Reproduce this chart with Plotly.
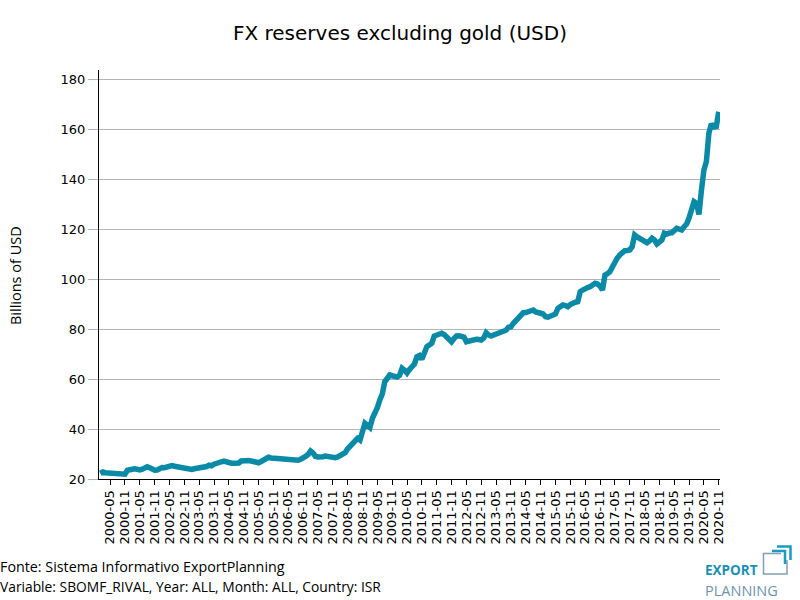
import plotly.graph_objects as go

# ---- data (billions of USD), monthly from 2000-01 to 2020-11 ----
r2000 = [22.3, 22.8, 22.5, 22.4, 22.3, 22.2, 22.3, 22.1, 22.2, 22.0, 21.9, 23.5]
r2001 = [24.0, 23.9, 24.1, 23.7, 23.6, 23.9, 24.3, 24.9, 24.5, 23.8, 23.5, 23.6]
r2002 = [24.3, 24.6, 24.5, 24.8, 25.1, 25.4, 25.1, 24.9, 24.6, 24.3, 23.9, 23.7]
r2003 = [23.9, 23.8, 24.1, 24.2, 24.7, 24.5, 24.4, 25.0, 25.5, 25.3, 25.9, 26.4]
r2004 = [26.6, 26.9, 27.2, 26.8, 26.4, 26.3, 26.3, 26.2, 26.4, 27.2, 27.4, 27.3]
r2005 = [27.4, 27.2, 26.9, 26.6, 26.5, 27.0, 27.6, 28.1, 28.7, 28.4, 28.2, 28.3]
r2006 = [28.3, 28.1, 28.0, 27.9, 27.9, 28.0, 27.6, 27.8, 27.5, 27.9, 28.8, 29.0]
r2007 = [29.8, 31.2, 30.4, 29.0, 28.8, 28.6, 28.9, 29.2, 29.0, 28.7, 28.4, 28.5]
r2008 = [28.8, 29.4, 29.6, 30.5, 32.1, 33.3, 34.5, 35.9, 36.3, 35.6, 38.5, 42.3]
r2009 = [41.5, 40.6, 44.3, 46.0, 48.5, 51.6, 54.0, 58.9, 60.3, 61.6, 61.3, 61.0]
r2010 = [60.8, 61.5, 64.3, 63.5, 62.4, 63.8, 64.9, 66.0, 68.9, 69.4, 67.9, 71.2]
r2011 = [72.9, 73.6, 74.3, 77.2, 77.4, 77.6, 78.3, 77.8, 76.7, 75.6, 74.9, 76.2]
r2012 = [77.2, 77.3, 77.2, 76.8, 74.9, 75.2, 75.5, 75.7, 75.9, 75.8, 75.6, 76.4]
r2013 = [78.5, 77.6, 77.2, 77.6, 78.0, 78.5, 78.6, 78.9, 79.5, 80.7, 80.9, 82.3]
r2014 = [83.3, 84.3, 85.6, 86.5, 86.6, 86.9, 87.1, 87.6, 86.8, 86.3, 86.3, 86.0]
r2015 = [84.9, 84.7, 85.2, 85.6, 86.0, 88.3, 89.0, 89.6, 89.4, 88.9, 89.8, 90.5]
r2016 = [90.7, 90.9, 94.9, 95.6, 96.3, 96.6, 96.9, 97.6, 98.3, 98.0, 97.2, 95.6]
r2017 = [101.6, 102.1, 102.9, 104.8, 106.9, 108.4, 109.6, 110.6, 111.3, 111.4, 111.6, 112.9]
r2018 = [117.6, 116.8, 116.3, 115.7, 115.1, 114.5, 115.2, 116.3, 115.6, 114.0, 114.8, 115.6]
r2019 = [118.3, 118.0, 118.4, 118.5, 119.3, 120.3, 120.0, 119.6, 120.9, 122.0, 124.5, 128.5]
r2020 = [130.9, 130.2, 125.8, 135.5, 143.6, 147.0, 158.3, 162.0, 160.8, 161.0, 166.9]

years = list(range(2000, 2021))
yearly = [r2000, r2001, r2002, r2003, r2004, r2005, r2006, r2007, r2008, r2009,
          r2010, r2011, r2012, r2013, r2014, r2015, r2016, r2017, r2018, r2019, r2020]

months = []
values = []
for yr, vals in zip(years, yearly):
    for m, v in enumerate(vals, start=1):
        months.append(f"{yr}-{m:02d}")
        values.append(v)

tick_labels = [mo for mo in months if mo[5:] in ("05", "11")]

title_text = "FX reserves excluding gold (USD)"
y_title = "Billions of USD"
source_text = "Fonte: Sistema Informativo ExportPlanning"
variable_text = "Variable: SBOMF_RIVAL, Year: ALL, Month: ALL, Country: ISR"

# ---- layout geometry (pixels) ----
W, H = 800, 600
L, R, T, B = 99, 80, 70, 121
PW, PH = W - L - R, H - T - B


def px(x):
    return (x - L) / PW


def py(y):
    return (H - B - y) / PH


fig = go.Figure()
fig.add_trace(go.Scatter(
    x=months, y=values, mode="lines",
    line=dict(color="#0a8aa6", width=5.5),
    hoverinfo="x+y",
))

fig.update_layout(
    width=W, height=H,
    margin=dict(l=L, r=R, t=T, b=B),
    paper_bgcolor="white", plot_bgcolor="white",
    showlegend=False,
    title=dict(text=title_text, x=0.5, xanchor="center", y=1 - 33 / H, yanchor="middle",
               font=dict(family="DejaVu Sans", size=20, color="#000000")),
    font=dict(family="DejaVu Sans", size=13, color="#000000"),
)

fig.update_xaxes(
    type="category", categoryorder="array", categoryarray=months,
    range=[-0.5, len(months) - 0.5], automargin=False,
    tickmode="array", tickvals=tick_labels, ticktext=tick_labels,
    tickangle=-90, ticks="outside", ticklen=5, tickcolor="#000000", tickwidth=1,
    showline=True, linecolor="#000000", linewidth=1,
    showgrid=False, zeroline=False,
    tickfont=dict(family="DejaVu Sans", size=13, color="#000000"),
)

fig.update_yaxes(
    range=[20, 183.6], automargin=False,
    tickmode="array", tickvals=[20, 40, 60, 80, 100, 120, 140, 160, 180],
    ticks="outside", ticklen=10, tickcolor="#b3b3b3", tickwidth=1,
    showline=True, linecolor="#000000", linewidth=1,
    showgrid=True, gridcolor="#b3b3b3", gridwidth=1, zeroline=False,
    tickfont=dict(family="DejaVu Sans", size=13, color="#000000"),
)

annotations = [
    dict(text=y_title, x=px(15), y=py(276), xref="paper", yref="paper",
         textangle=-90, showarrow=False, xanchor="center", yanchor="middle",
         font=dict(family="Open Sans", size=14.5, color="#000000")),
    dict(text=source_text, x=px(-2), y=py(566), xref="paper", yref="paper",
         showarrow=False, xanchor="left", yanchor="middle",
         font=dict(family="Open Sans", size=14.3, color="#000000")),
    dict(text=variable_text, x=px(-2), y=py(586), xref="paper", yref="paper",
         showarrow=False, xanchor="left", yanchor="middle",
         font=dict(family="Open Sans", size=13.8, color="#000000")),
    dict(text="<b>EXPORT</b>", x=px(704), y=py(580), xref="paper", yref="paper",
         showarrow=False, xanchor="left", yanchor="bottom", borderpad=0,
         font=dict(family="Open Sans", size=13.5, color="#1a8fb5")),
    dict(text="PLANNING", x=px(704), y=py(580), xref="paper", yref="paper",
         showarrow=False, xanchor="left", yanchor="top", borderpad=0,
         font=dict(family="Open Sans", size=14.5, color="#6f93a8")),
]
fig.update_layout(annotations=annotations)

logo_gray = "#7f9fb2"
logo_teal = "#1a9bc2"
shapes = [
    dict(type="path", xref="paper", yref="paper",
         path=f"M {px(781)} {py(553.5)} L {px(763.5)} {py(553.5)} L {px(763.5)} {py(574)} "
              f"L {px(787)} {py(574)} L {px(787)} {py(560)}",
         line=dict(color=logo_gray, width=1.5)),
    dict(type="path", xref="paper", yref="paper",
         path=f"M {px(772)} {py(551)} L {px(785)} {py(551)} L {px(785)} {py(564)}",
         line=dict(color=logo_teal, width=2.5)),
    dict(type="path", xref="paper", yref="paper",
         path=f"M {px(777)} {py(546.5)} L {px(790.5)} {py(546.5)} L {px(790.5)} {py(560)}",
         line=dict(color=logo_teal, width=2.5)),
]
fig.update_layout(shapes=shapes)

fig.write_html("out.html", config={"displayModeBar": False},
               post_script="document.body.style.margin='0';")
